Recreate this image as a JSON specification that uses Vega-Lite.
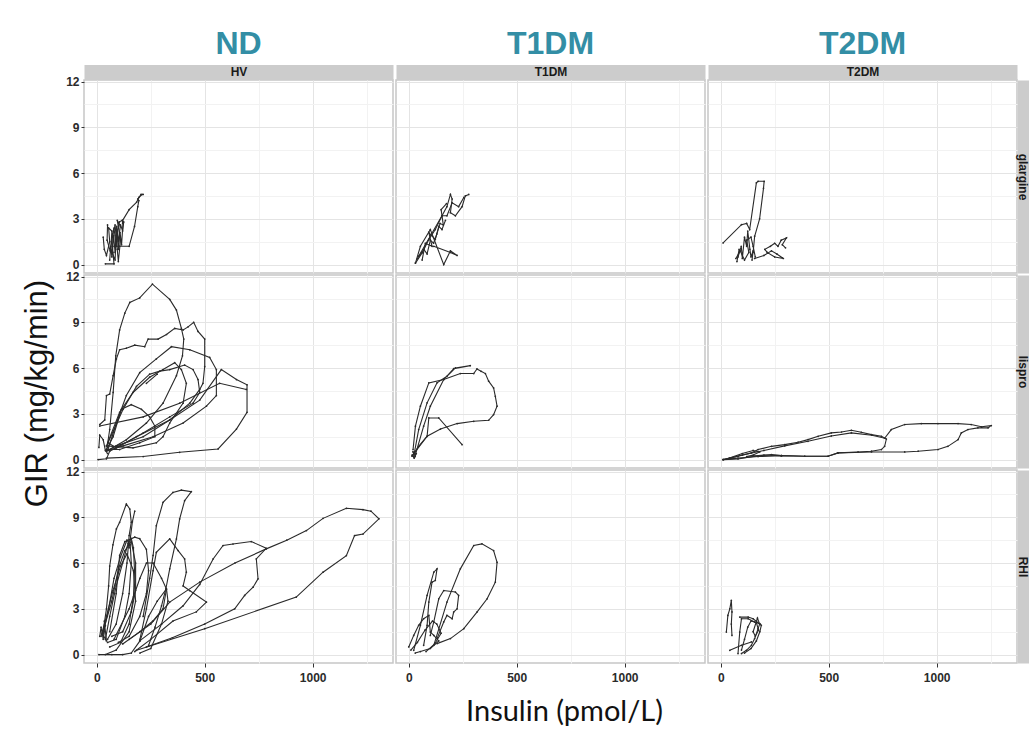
{
"$schema": "https://vega.github.io/schema/vega-lite/v6.json",
"padding": {"left": 20, "top": 27, "right": 0, "bottom": 0},
"autosize": {"type": "pad"},
"background": "white",
"columns": 3,
"spacing": {"row": 2, "column": 3},
"bounds": "flush",
"config": {
  "view": {"stroke": "#c6c6c6", "strokeWidth": 1.5},
  "axis": {"labelFont": "Liberation Sans", "labelFontWeight": "bold", "labelFontSize": 12, "labelColor": "#2b2b2b", "domain": false, "tickSize": 3, "tickColor": "#333333", "labelPadding": 2},
  "title": {"font": "Liberation Sans", "fontSize": 32, "fontWeight": "bold", "color": "#338ea5", "anchor": "middle", "frame": "group", "offset": 4}
},
"datasets": {
"hv_gl": [
{"s":"a1","x":40,"y":0.05},{"s":"a1","x":80,"y":0.05},{"s":"a1","x":75,"y":0.8},{"s":"a1","x":70,"y":1.8},{"s":"a1","x":80,"y":2.4},{"s":"a1","x":90,"y":1.2},{"s":"a1","x":95,"y":2.2},{"s":"a1","x":100,"y":1.5},{"s":"a1","x":110,"y":2.6},{"s":"a1","x":120,"y":2.2},{"s":"a1","x":125,"y":2.8},
{"s":"a2","x":30,"y":1.8},{"s":"a2","x":35,"y":1.0},{"s":"a2","x":45,"y":0.6},{"s":"a2","x":60,"y":1.5},{"s":"a2","x":55,"y":2.4},{"s":"a2","x":70,"y":2.2},{"s":"a2","x":65,"y":1.0},{"s":"a2","x":85,"y":0.3},{"s":"a2","x":90,"y":1.9},{"s":"a2","x":105,"y":2.8},{"s":"a2","x":118,"y":2.9},{"s":"a2","x":120,"y":2.7},
{"s":"a3","x":50,"y":2.6},{"s":"a3","x":48,"y":1.6},{"s":"a3","x":62,"y":0.9},{"s":"a3","x":75,"y":2.0},{"s":"a3","x":85,"y":2.6},{"s":"a3","x":95,"y":1.0},{"s":"a3","x":100,"y":0.2},{"s":"a3","x":110,"y":1.6},{"s":"a3","x":95,"y":2.9},{"s":"a3","x":110,"y":2.5},
{"s":"a4","x":80,"y":1.2},{"s":"a4","x":105,"y":1.2},{"s":"a4","x":150,"y":1.2},{"s":"a4","x":175,"y":2.5},{"s":"a4","x":190,"y":3.8},{"s":"a4","x":195,"y":4.2},{"s":"a4","x":190,"y":4.3},{"s":"a4","x":205,"y":4.6},{"s":"a4","x":215,"y":4.6},
{"s":"a5","x":120,"y":2.9},{"s":"a5","x":150,"y":3.6},{"s":"a5","x":185,"y":4.1},{"s":"a5","x":195,"y":4.4},{"s":"a5","x":210,"y":4.6},
{"s":"a6","x":60,"y":0.3},{"s":"a6","x":65,"y":1.2},{"s":"a6","x":70,"y":0.5},{"s":"a6","x":78,"y":1.9},{"s":"a6","x":85,"y":0.8},{"s":"a6","x":92,"y":2.5},{"s":"a6","x":100,"y":1.0},{"s":"a6","x":108,"y":2.1},{"s":"a6","x":115,"y":1.3},{"s":"a6","x":122,"y":2.8}
],
"hv_li": [
{"s":"b1","x":45,"y":0.55},{"s":"b1","x":60,"y":1.97},{"s":"b1","x":76,"y":4.4},{"s":"b1","x":88,"y":6.8},{"s":"b1","x":106,"y":8.5},{"s":"b1","x":130,"y":9.6},{"s":"b1","x":153,"y":10.3},{"s":"b1","x":199,"y":10.6},{"s":"b1","x":258,"y":11.5},{"s":"b1","x":338,"y":10.5},{"s":"b1","x":369,"y":9.8},{"s":"b1","x":392,"y":8.6},{"s":"b1","x":403,"y":7.9},{"s":"b1","x":397,"y":6.8},{"s":"b1","x":369,"y":5.5},{"s":"b1","x":307,"y":3.7},{"s":"b1","x":230,"y":2.4},{"s":"b1","x":137,"y":1.3},{"s":"b1","x":60,"y":0.66},
{"s":"b2","x":14,"y":2.3},{"s":"b2","x":37,"y":2.6},{"s":"b2","x":45,"y":4.2},{"s":"b2","x":60,"y":4.3},{"s":"b2","x":76,"y":5.5},{"s":"b2","x":91,"y":6.6},{"s":"b2","x":106,"y":7.2},{"s":"b2","x":137,"y":7.3},{"s":"b2","x":176,"y":7.5},{"s":"b2","x":222,"y":7.4},{"s":"b2","x":238,"y":7.9},{"s":"b2","x":284,"y":7.9},{"s":"b2","x":323,"y":8.2},{"s":"b2","x":361,"y":8.6},{"s":"b2","x":400,"y":8.5},{"s":"b2","x":423,"y":8.7},{"s":"b2","x":449,"y":9.0},{"s":"b2","x":469,"y":8.4},{"s":"b2","x":500,"y":7.9},{"s":"b2","x":500,"y":6.1},{"s":"b2","x":492,"y":5.0},{"s":"b2","x":477,"y":4.6},{"s":"b2","x":431,"y":3.7},{"s":"b2","x":338,"y":2.6},{"s":"b2","x":215,"y":1.5},{"s":"b2","x":91,"y":0.9},{"s":"b2","x":45,"y":0.55},
{"s":"b3","x":52,"y":0.66},{"s":"b3","x":91,"y":2.4},{"s":"b3","x":137,"y":4.2},{"s":"b3","x":199,"y":5.7},{"s":"b3","x":276,"y":6.6},{"s":"b3","x":346,"y":7.4},{"s":"b3","x":431,"y":7.2},{"s":"b3","x":523,"y":6.7},{"s":"b3","x":554,"y":5.9},{"s":"b3","x":554,"y":4.2},{"s":"b3","x":508,"y":3.5},{"s":"b3","x":400,"y":2.4},{"s":"b3","x":261,"y":1.5},{"s":"b3","x":122,"y":0.9},{"s":"b3","x":52,"y":0.6},
{"s":"b4","x":6,"y":0},{"s":"b4","x":45,"y":0.05},{"s":"b4","x":60,"y":0.55},{"s":"b4","x":184,"y":1.5},{"s":"b4","x":338,"y":2.6},{"s":"b4","x":477,"y":3.9},{"s":"b4","x":577,"y":5.9},{"s":"b4","x":647,"y":5.25},{"s":"b4","x":696,"y":4.9},{"s":"b4","x":696,"y":3.1},{"s":"b4","x":647,"y":2.0},{"s":"b4","x":562,"y":0.7},{"s":"b4","x":384,"y":0.48},{"s":"b4","x":215,"y":0.2},{"s":"b4","x":45,"y":0.1},
{"s":"b5","x":52,"y":1.1},{"s":"b5","x":122,"y":3.3},{"s":"b5","x":184,"y":4.8},{"s":"b5","x":245,"y":5.6},{"s":"b5","x":292,"y":5.8},{"s":"b5","x":338,"y":5.9},{"s":"b5","x":407,"y":6.2},{"s":"b5","x":446,"y":5.9},{"s":"b5","x":469,"y":5.25},{"s":"b5","x":477,"y":4.4},{"s":"b5","x":446,"y":3.7},{"s":"b5","x":338,"y":2.8},{"s":"b5","x":215,"y":1.75},{"s":"b5","x":91,"y":0.77},{"s":"b5","x":52,"y":1.1},
{"s":"b6","x":45,"y":0.9},{"s":"b6","x":106,"y":3.1},{"s":"b6","x":168,"y":4.4},{"s":"b6","x":245,"y":5.4},{"s":"b6","x":307,"y":5.9},{"s":"b6","x":361,"y":6.35},{"s":"b6","x":392,"y":5.9},{"s":"b6","x":415,"y":5.0},{"s":"b6","x":400,"y":3.7},{"s":"b6","x":338,"y":2.4},{"s":"b6","x":307,"y":1.5},{"s":"b6","x":276,"y":1.1},{"s":"b6","x":168,"y":0.77},{"s":"b6","x":45,"y":0.9},
{"s":"b7","x":45,"y":0.66},{"s":"b7","x":76,"y":1.5},{"s":"b7","x":114,"y":3.3},{"s":"b7","x":160,"y":3.6},{"s":"b7","x":207,"y":3.3},{"s":"b7","x":245,"y":2.8},{"s":"b7","x":269,"y":2.2},{"s":"b7","x":269,"y":1.5},{"s":"b7","x":199,"y":1.1},{"s":"b7","x":106,"y":0.66},{"s":"b7","x":45,"y":0.66},
{"s":"b8","x":14,"y":2.2},{"s":"b8","x":215,"y":2.8},{"s":"b8","x":384,"y":3.7},{"s":"b8","x":569,"y":5.0},{"s":"b8","x":693,"y":4.6},
{"s":"b9","x":230,"y":5.0},{"s":"b9","x":280,"y":5.6},
{"s":"b10","x":10,"y":0.8},{"s":"b10","x":14,"y":1.6},{"s":"b10","x":30,"y":1.3},{"s":"b10","x":40,"y":0.6},{"s":"b10","x":50,"y":0.4}
],
"hv_rh": [
{"s":"c1","x":184,"y":0.28},{"s":"c1","x":500,"y":1.7},{"s":"c1","x":924,"y":3.77},{"s":"c1","x":1048,"y":5.4},{"s":"c1","x":1156,"y":6.49},{"s":"c1","x":1194,"y":7.8},{"s":"c1","x":1233,"y":7.9},{"s":"c1","x":1307,"y":8.9},{"s":"c1","x":1270,"y":9.4},{"s":"c1","x":1233,"y":9.5},{"s":"c1","x":1156,"y":9.59},{"s":"c1","x":1048,"y":8.93},{"s":"c1","x":971,"y":8.13},{"s":"c1","x":880,"y":7.5},{"s":"c1","x":785,"y":6.93},{"s":"c1","x":640,"y":6.0},{"s":"c1","x":477,"y":4.75},{"s":"c1","x":338,"y":3.44},{"s":"c1","x":250,"y":2.0},{"s":"c1","x":150,"y":1.0},
{"s":"c2","x":199,"y":0.9},{"s":"c2","x":300,"y":2.0},{"s":"c2","x":400,"y":3.2},{"s":"c2","x":477,"y":4.6},{"s":"c2","x":539,"y":6.27},{"s":"c2","x":585,"y":7.15},{"s":"c2","x":631,"y":7.25},{"s":"c2","x":716,"y":7.41},{"s":"c2","x":785,"y":6.97},{"s":"c2","x":739,"y":6.27},{"s":"c2","x":747,"y":4.97},{"s":"c2","x":724,"y":4.42},{"s":"c2","x":685,"y":3.88},{"s":"c2","x":639,"y":3.0},{"s":"c2","x":500,"y":2.0},{"s":"c2","x":350,"y":1.1},{"s":"c2","x":230,"y":0.5},
{"s":"c3","x":215,"y":2.5},{"s":"c3","x":245,"y":5.0},{"s":"c3","x":261,"y":6.5},{"s":"c3","x":276,"y":8.45},{"s":"c3","x":307,"y":9.98},{"s":"c3","x":353,"y":10.63},{"s":"c3","x":392,"y":10.78},{"s":"c3","x":438,"y":10.68},{"s":"c3","x":407,"y":10.09},{"s":"c3","x":384,"y":8.89},{"s":"c3","x":369,"y":7.58},{"s":"c3","x":338,"y":5.62},{"s":"c3","x":320,"y":4.3},{"s":"c3","x":300,"y":3.2},{"s":"c3","x":270,"y":1.8},{"s":"c3","x":240,"y":0.6},
{"s":"c4","x":200,"y":1.0},{"s":"c4","x":230,"y":3.0},{"s":"c4","x":261,"y":5.5},{"s":"c4","x":276,"y":6.7},{"s":"c4","x":338,"y":7.58},{"s":"c4","x":377,"y":6.82},{"s":"c4","x":407,"y":6.27},{"s":"c4","x":415,"y":5.4},{"s":"c4","x":400,"y":4.5},{"s":"c4","x":430,"y":4.2},{"s":"c4","x":508,"y":3.44},{"s":"c4","x":461,"y":2.8},{"s":"c4","x":353,"y":2.2},{"s":"c4","x":250,"y":1.0},{"s":"c4","x":176,"y":0.2},
{"s":"c5","x":29,"y":1.5},{"s":"c5","x":45,"y":3.0},{"s":"c5","x":55,"y":4.5},{"s":"c5","x":60,"y":5.8},{"s":"c5","x":75,"y":7.2},{"s":"c5","x":91,"y":8.24},{"s":"c5","x":106,"y":8.67},{"s":"c5","x":137,"y":9.87},{"s":"c5","x":153,"y":9.54},{"s":"c5","x":160,"y":8.67},{"s":"c5","x":150,"y":7.8},{"s":"c5","x":140,"y":6.0},{"s":"c5","x":120,"y":4.0},{"s":"c5","x":90,"y":2.0},{"s":"c5","x":50,"y":1.0},
{"s":"c14","x":150,"y":7.0},{"s":"c14","x":165,"y":8.7},{"s":"c14","x":176,"y":9.4},
{"s":"c6","x":40,"y":1.0},{"s":"c6","x":60,"y":2.5},{"s":"c6","x":90,"y":4.5},{"s":"c6","x":120,"y":6.0},{"s":"c6","x":145,"y":7.3},{"s":"c6","x":160,"y":7.6},{"s":"c6","x":170,"y":7.0},{"s":"c6","x":175,"y":5.5},{"s":"c6","x":170,"y":3.8},{"s":"c6","x":150,"y":2.0},{"s":"c6","x":110,"y":0.8},{"s":"c6","x":60,"y":0.5},
{"s":"c7","x":30,"y":1.4},{"s":"c7","x":55,"y":3.0},{"s":"c7","x":80,"y":5.0},{"s":"c7","x":110,"y":6.4},{"s":"c7","x":140,"y":7.5},{"s":"c7","x":155,"y":7.2},{"s":"c7","x":160,"y":6.0},{"s":"c7","x":150,"y":4.0},{"s":"c7","x":130,"y":2.5},{"s":"c7","x":90,"y":1.0},{"s":"c7","x":50,"y":0.8},
{"s":"c8","x":35,"y":1.8},{"s":"c8","x":70,"y":3.5},{"s":"c8","x":100,"y":5.6},{"s":"c8","x":130,"y":6.8},{"s":"c8","x":160,"y":7.4},{"s":"c8","x":180,"y":6.0},{"s":"c8","x":180,"y":4.2},{"s":"c8","x":160,"y":2.8},{"s":"c8","x":120,"y":1.5},{"s":"c8","x":70,"y":1.2},
{"s":"c9","x":20,"y":1.2},{"s":"c9","x":45,"y":2.5},{"s":"c9","x":75,"y":4.2},{"s":"c9","x":110,"y":5.8},{"s":"c9","x":140,"y":6.6},{"s":"c9","x":170,"y":5.5},{"s":"c9","x":180,"y":3.5},{"s":"c9","x":150,"y":1.5},{"s":"c9","x":90,"y":0.3},{"s":"c9","x":40,"y":0.0},
{"s":"c10","x":10,"y":0.0},{"s":"c10","x":70,"y":0.0},{"s":"c10","x":120,"y":0.0},{"s":"c10","x":160,"y":0.1},{"s":"c10","x":200,"y":0.9},{"s":"c10","x":240,"y":2.5},{"s":"c10","x":280,"y":3.5},{"s":"c10","x":323,"y":4.3},{"s":"c10","x":330,"y":3.5},{"s":"c10","x":300,"y":2.0},{"s":"c10","x":250,"y":0.4},{"s":"c10","x":200,"y":0.1},
{"s":"c11","x":60,"y":1.5},{"s":"c11","x":90,"y":4.0},{"s":"c11","x":106,"y":6.5},{"s":"c11","x":130,"y":7.4},{"s":"c11","x":176,"y":7.7},{"s":"c11","x":199,"y":7.6},{"s":"c11","x":230,"y":6.9},{"s":"c11","x":240,"y":5.5},{"s":"c11","x":230,"y":4.0},{"s":"c11","x":199,"y":2.5},{"s":"c11","x":150,"y":1.2},{"s":"c11","x":100,"y":0.8},
{"s":"c12","x":80,"y":1.0},{"s":"c12","x":150,"y":3.0},{"s":"c12","x":200,"y":5.0},{"s":"c12","x":230,"y":6.0},{"s":"c12","x":261,"y":6.0},{"s":"c12","x":300,"y":5.0},{"s":"c12","x":323,"y":4.3},{"s":"c12","x":307,"y":3.0},{"s":"c12","x":260,"y":2.2},{"s":"c12","x":200,"y":1.5},{"s":"c12","x":120,"y":0.7},
{"s":"c13","x":14,"y":1.2},{"s":"c13","x":20,"y":1.8},{"s":"c13","x":30,"y":1.0},{"s":"c13","x":40,"y":1.9},{"s":"c13","x":25,"y":1.4},{"s":"c13","x":45,"y":0.9},{"s":"c13","x":35,"y":2.2}
],
"t1_gl": [
{"s":"d1","x":31,"y":0.1},{"s":"d1","x":54,"y":1.2},{"s":"d1","x":100,"y":2.3},{"s":"d1","x":162,"y":0},{"s":"d1","x":193,"y":0.9},{"s":"d1","x":224,"y":0.6},{"s":"d1","x":193,"y":0.8},{"s":"d1","x":116,"y":1.2},
{"s":"d2","x":31,"y":0.1},{"s":"d2","x":62,"y":0.77},{"s":"d2","x":93,"y":1.65},{"s":"d2","x":123,"y":2.3},{"s":"d2","x":154,"y":3.2},{"s":"d2","x":177,"y":3.8},{"s":"d2","x":193,"y":4.6},{"s":"d2","x":201,"y":4.3},{"s":"d2","x":193,"y":3.4},{"s":"d2","x":216,"y":3.2},{"s":"d2","x":247,"y":3.8},{"s":"d2","x":262,"y":4.5},{"s":"d2","x":278,"y":4.6},
{"s":"d3","x":46,"y":0.55},{"s":"d3","x":154,"y":3.2},{"s":"d3","x":177,"y":3.2},{"s":"d3","x":201,"y":4.05},{"s":"d3","x":231,"y":3.8},{"s":"d3","x":255,"y":4.4},
{"s":"d4","x":62,"y":0.3},{"s":"d4","x":77,"y":1.4},{"s":"d4","x":108,"y":1.2},{"s":"d4","x":93,"y":2.1},{"s":"d4","x":123,"y":1.65},{"s":"d4","x":139,"y":2.5},{"s":"d4","x":154,"y":2.3},{"s":"d4","x":170,"y":2.9},
{"s":"d5","x":40,"y":0.4},{"s":"d5","x":70,"y":1.0},{"s":"d5","x":85,"y":0.7},{"s":"d5","x":100,"y":1.6},{"s":"d5","x":115,"y":1.4},{"s":"d5","x":130,"y":2.0},{"s":"d5","x":145,"y":2.7},{"s":"d5","x":160,"y":2.6},{"s":"d5","x":150,"y":3.6},{"s":"d5","x":175,"y":4.0}
],
"t1_li": [
{"s":"e1","x":15,"y":0.22},{"s":"e1","x":46,"y":0.87},{"s":"e1","x":85,"y":1.53},{"s":"e1","x":147,"y":2.0},{"s":"e1","x":224,"y":2.36},{"s":"e1","x":301,"y":2.51},{"s":"e1","x":370,"y":2.58},{"s":"e1","x":393,"y":2.95},{"s":"e1","x":409,"y":3.5},{"s":"e1","x":401,"y":4.15},{"s":"e1","x":393,"y":4.7},{"s":"e1","x":370,"y":5.14},{"s":"e1","x":355,"y":5.64},{"s":"e1","x":335,"y":5.79},{"s":"e1","x":316,"y":5.94},{"s":"e1","x":301,"y":5.64},{"s":"e1","x":239,"y":5.64},{"s":"e1","x":162,"y":5.25},{"s":"e1","x":93,"y":5.03},{"s":"e1","x":54,"y":3.5},{"s":"e1","x":31,"y":2.19},{"s":"e1","x":20,"y":0.66},
{"s":"e2","x":23,"y":0.22},{"s":"e2","x":46,"y":1.97},{"s":"e2","x":85,"y":3.72},{"s":"e2","x":131,"y":5.03},{"s":"e2","x":177,"y":5.46},{"s":"e2","x":216,"y":6.01},{"s":"e2","x":285,"y":6.16},{"s":"e2","x":208,"y":5.96},{"s":"e2","x":162,"y":5.25},{"s":"e2","x":100,"y":3.5},{"s":"e2","x":69,"y":2.19},{"s":"e2","x":31,"y":0.33},
{"s":"e3","x":20,"y":0.33},{"s":"e3","x":85,"y":1.53},{"s":"e3","x":93,"y":2.73},{"s":"e3","x":139,"y":2.73},{"s":"e3","x":247,"y":0.98},
{"s":"e4","x":15,"y":0.3},{"s":"e4","x":25,"y":0.1},{"s":"e4","x":35,"y":0.4},{"s":"e4","x":20,"y":0.5},{"s":"e4","x":30,"y":0.2}
],
"t1_rh": [
{"s":"f1","x":116,"y":0.61},{"s":"f1","x":177,"y":3.44},{"s":"f1","x":239,"y":5.62},{"s":"f1","x":301,"y":7.15},{"s":"f1","x":339,"y":7.26},{"s":"f1","x":393,"y":6.82},{"s":"f1","x":409,"y":6.05},{"s":"f1","x":401,"y":4.75},{"s":"f1","x":363,"y":3.66},{"s":"f1","x":316,"y":2.79},{"s":"f1","x":255,"y":1.7},{"s":"f1","x":193,"y":1.05},{"s":"f1","x":131,"y":0.72},
{"s":"f2","x":131,"y":1.05},{"s":"f2","x":162,"y":2.14},{"s":"f2","x":177,"y":2.57},{"s":"f2","x":201,"y":2.35},{"s":"f2","x":208,"y":2.79},{"s":"f2","x":224,"y":3.0},{"s":"f2","x":231,"y":3.88},{"s":"f2","x":216,"y":4.1},{"s":"f2","x":162,"y":4.2},{"s":"f2","x":139,"y":3.66},{"s":"f2","x":116,"y":2.14},{"s":"f2","x":100,"y":1.26},
{"s":"f3","x":23,"y":0.28},{"s":"f3","x":54,"y":1.92},{"s":"f3","x":85,"y":3.88},{"s":"f3","x":116,"y":5.4},{"s":"f3","x":131,"y":5.62},{"s":"f3","x":123,"y":4.86},{"s":"f3","x":108,"y":4.75},{"s":"f3","x":93,"y":3.44},{"s":"f3","x":85,"y":1.92},{"s":"f3","x":69,"y":0.61},
{"s":"f4","x":0,"y":0.5},{"s":"f4","x":23,"y":1.26},{"s":"f4","x":46,"y":1.92},{"s":"f4","x":69,"y":2.35},{"s":"f4","x":93,"y":2.57},{"s":"f4","x":100,"y":1.48},{"s":"f4","x":116,"y":1.26},{"s":"f4","x":139,"y":0.9},{"s":"f4","x":100,"y":0.4},{"s":"f4","x":54,"y":0.2},{"s":"f4","x":30,"y":0.1},
{"s":"f5","x":10,"y":0.3},{"s":"f5","x":40,"y":0.8},{"s":"f5","x":75,"y":1.6},{"s":"f5","x":110,"y":2.2},{"s":"f5","x":130,"y":2.0},{"s":"f5","x":150,"y":1.4},{"s":"f5","x":120,"y":0.7},{"s":"f5","x":80,"y":0.2}
],
"t2_gl": [
{"s":"h1","x":11,"y":1.42},{"s":"h1","x":96,"y":2.62},{"s":"h1","x":120,"y":2.7},{"s":"h1","x":134,"y":2.3},{"s":"h1","x":165,"y":5.36},{"s":"h1","x":173,"y":5.46},{"s":"h1","x":201,"y":5.46},{"s":"h1","x":198,"y":5.0},{"s":"h1","x":180,"y":3.0},{"s":"h1","x":157,"y":1.86},{"s":"h1","x":150,"y":0.8},
{"s":"h2","x":75,"y":0.2},{"s":"h2","x":85,"y":1.0},{"s":"h2","x":80,"y":0.5},{"s":"h2","x":95,"y":1.2},{"s":"h2","x":100,"y":0.4},{"s":"h2","x":110,"y":1.8},{"s":"h2","x":120,"y":1.2},{"s":"h2","x":125,"y":2.2},{"s":"h2","x":135,"y":1.0},{"s":"h2","x":140,"y":0.5},{"s":"h2","x":150,"y":0.9},{"s":"h2","x":145,"y":0.3},
{"s":"h3","x":70,"y":0.4},{"s":"h3","x":90,"y":0.9},{"s":"h3","x":110,"y":0.3},{"s":"h3","x":130,"y":0.8},{"s":"h3","x":120,"y":1.6},{"s":"h3","x":140,"y":1.8},{"s":"h3","x":150,"y":1.2},{"s":"h3","x":160,"y":0.5},
{"s":"h4","x":157,"y":0.4},{"s":"h4","x":200,"y":0.6},{"s":"h4","x":235,"y":0.9},{"s":"h4","x":260,"y":0.7},{"s":"h4","x":290,"y":0.4},{"s":"h4","x":250,"y":0.5},{"s":"h4","x":215,"y":0.8},{"s":"h4","x":204,"y":1.0},{"s":"h4","x":230,"y":1.2},{"s":"h4","x":250,"y":1.4},{"s":"h4","x":265,"y":1.2},{"s":"h4","x":280,"y":1.6},{"s":"h4","x":304,"y":1.75},{"s":"h4","x":285,"y":1.3},{"s":"h4","x":300,"y":1.1}
],
"t2_li": [
{"s":"k1","x":11,"y":0},{"s":"k1","x":80,"y":0.22},{"s":"k1","x":142,"y":0.44},{"s":"k1","x":173,"y":0.66},{"s":"k1","x":235,"y":0.87},{"s":"k1","x":296,"y":0.98},{"s":"k1","x":358,"y":1.14},{"s":"k1","x":404,"y":1.31},{"s":"k1","x":451,"y":1.53},{"s":"k1","x":512,"y":1.75},{"s":"k1","x":559,"y":1.81},{"s":"k1","x":605,"y":1.92},{"s":"k1","x":651,"y":1.79},{"s":"k1","x":698,"y":1.64},{"s":"k1","x":744,"y":1.53},{"s":"k1","x":767,"y":1.35},{"s":"k1","x":759,"y":0.87},{"s":"k1","x":744,"y":0.66},{"s":"k1","x":698,"y":0.55},{"s":"k1","x":636,"y":0.5},{"s":"k1","x":543,"y":0.44},{"s":"k1","x":497,"y":0.22},{"s":"k1","x":389,"y":0.22},{"s":"k1","x":281,"y":0.26},{"s":"k1","x":235,"y":0.33},{"s":"k1","x":157,"y":0.22},{"s":"k1","x":80,"y":0.04},{"s":"k1","x":11,"y":0},
{"s":"k2","x":11,"y":0},{"s":"k2","x":100,"y":0.3},{"s":"k2","x":200,"y":0.6},{"s":"k2","x":296,"y":0.9},{"s":"k2","x":404,"y":1.2},{"s":"k2","x":512,"y":1.55},{"s":"k2","x":605,"y":1.75},{"s":"k2","x":700,"y":1.6},{"s":"k2","x":759,"y":1.4},{"s":"k2","x":790,"y":1.97},{"s":"k2","x":852,"y":2.3},{"s":"k2","x":929,"y":2.36},{"s":"k2","x":1006,"y":2.36},{"s":"k2","x":1099,"y":2.36},{"s":"k2","x":1160,"y":2.3},{"s":"k2","x":1207,"y":2.15},{"s":"k2","x":1253,"y":2.23},{"s":"k2","x":1238,"y":2.08},{"s":"k2","x":1191,"y":2.08},{"s":"k2","x":1145,"y":1.97},{"s":"k2","x":1114,"y":1.75},{"s":"k2","x":1099,"y":1.31},{"s":"k2","x":1052,"y":0.87},{"s":"k2","x":1006,"y":0.66},{"s":"k2","x":914,"y":0.55},{"s":"k2","x":852,"y":0.5},{"s":"k2","x":698,"y":0.5},{"s":"k2","x":543,"y":0.44},{"s":"k2","x":497,"y":0.22},{"s":"k2","x":389,"y":0.22},{"s":"k2","x":281,"y":0.26},{"s":"k2","x":173,"y":0.2},{"s":"k2","x":80,"y":0.1},{"s":"k2","x":11,"y":0},
{"s":"k3","x":40,"y":0.1},{"s":"k3","x":100,"y":0.4},{"s":"k3","x":150,"y":0.6},{"s":"k3","x":180,"y":0.5},{"s":"k3","x":150,"y":0.3},{"s":"k3","x":120,"y":0.2},{"s":"k3","x":200,"y":0.3},{"s":"k3","x":281,"y":0.26}
],
"t2_rh": [
{"s":"m1","x":26,"y":1.48},{"s":"m1","x":33,"y":2.57},{"s":"m1","x":42,"y":3.0},{"s":"m1","x":49,"y":3.55},{"s":"m1","x":52,"y":2.8},{"s":"m1","x":49,"y":2.0},{"s":"m1","x":52,"y":1.26},
{"s":"m2","x":42,"y":0.28},{"s":"m2","x":96,"y":0.61},{"s":"m2","x":142,"y":0.83},
{"s":"m3","x":80,"y":0.07},{"s":"m3","x":88,"y":1.48},{"s":"m3","x":96,"y":2.35},{"s":"m3","x":127,"y":2.35},{"s":"m3","x":157,"y":2.13},{"s":"m3","x":181,"y":2.03},{"s":"m3","x":173,"y":1.7},{"s":"m3","x":157,"y":1.05},{"s":"m3","x":142,"y":0.61},{"s":"m3","x":119,"y":0.28},{"s":"m3","x":96,"y":0.07},
{"s":"m4","x":88,"y":2.46},{"s":"m4","x":127,"y":2.46},{"s":"m4","x":150,"y":2.35},{"s":"m4","x":188,"y":1.92},{"s":"m4","x":181,"y":1.5},{"s":"m4","x":165,"y":0.9},{"s":"m4","x":140,"y":0.4},{"s":"m4","x":110,"y":0.1},
{"s":"m5","x":96,"y":0.3},{"s":"m5","x":110,"y":1.0},{"s":"m5","x":125,"y":1.8},{"s":"m5","x":140,"y":2.2},{"s":"m5","x":165,"y":2.1},{"s":"m5","x":175,"y":1.6},{"s":"m5","x":160,"y":1.2},{"s":"m5","x":150,"y":1.5},{"s":"m5","x":170,"y":2.4},{"s":"m5","x":180,"y":2.0}
]
},
"concat": [
 {"title": "ND", "width": 309, "height": 193, "data": {"name": "hv_gl"},
  "resolve": {"axis": {"x": "independent"}},
  "encoding": {
   "x": {"field": "x", "type": "quantitative", "scale": {"domain": [-59, 1372], "nice": false, "zero": false}, "axis": {"title": null, "values": [0,250,500,750,1000,1250], "labels": false, "ticks": false, "gridColor": {"condition": {"test": "datum.value % 500 === 0", "value": "#e4e4e4"}, "value": "#f2f2f2"}}},
   "y": {"field": "y", "type": "quantitative", "scale": {"domain": [-0.55, 12.1], "nice": false, "zero": false}, "axis": {"title": null, "values": [0,1.5,3,4.5,6,7.5,9,10.5,12], "format": "d", "labelExpr": "datum.value % 3 === 0 ? datum.label : ''", "tickOpacity": {"condition": {"test": "datum.value % 3 === 0", "value": 1}, "value": 0}, "gridColor": {"condition": {"test": "datum.value % 3 === 0", "value": "#e4e4e4"}, "value": "#f2f2f2"}}}},
  "layer": [
   {"mark": {"type": "line", "color": "#2a2a2a", "strokeWidth": 1.1}, "encoding": {"detail": {"field": "s"}, "order": {"value": null}}},
   {"mark": {"type": "point", "filled": true, "size": 3, "color": "#2a2a2a", "opacity": 1},
    "encoding": {"x": {"field": "x", "type": "quantitative", "scale": {"domain": [-59, 1372], "nice": false, "zero": false}, "axis": {"orient": "top", "domain": true, "domainColor": "#cccccc", "domainWidth": 15, "offset": 8, "labels": false, "ticks": false, "grid": false, "title": "HV", "titlePadding": -6, "titleFont": "Liberation Sans", "titleFontSize": 12, "titleFontWeight": "bold", "titleColor": "#1a1a1a"}}}}
  ]},
 {"title": "T1DM", "width": 309, "height": 193, "data": {"name": "t1_gl"},
  "resolve": {"axis": {"x": "independent"}},
  "encoding": {
   "x": {"field": "x", "type": "quantitative", "scale": {"domain": [-59, 1372], "nice": false, "zero": false}, "axis": {"title": null, "values": [0,250,500,750,1000,1250], "labels": false, "ticks": false, "gridColor": {"condition": {"test": "datum.value % 500 === 0", "value": "#e4e4e4"}, "value": "#f2f2f2"}}},
   "y": {"field": "y", "type": "quantitative", "scale": {"domain": [-0.55, 12.1], "nice": false, "zero": false}, "axis": {"title": null, "values": [0,1.5,3,4.5,6,7.5,9,10.5,12], "labels": false, "ticks": false, "gridColor": {"condition": {"test": "datum.value % 3 === 0", "value": "#e4e4e4"}, "value": "#f2f2f2"}}}},
  "layer": [
   {"mark": {"type": "line", "color": "#2a2a2a", "strokeWidth": 1.1}, "encoding": {"detail": {"field": "s"}, "order": {"value": null}}},
   {"mark": {"type": "point", "filled": true, "size": 3, "color": "#2a2a2a", "opacity": 1},
    "encoding": {"x": {"field": "x", "type": "quantitative", "scale": {"domain": [-59, 1372], "nice": false, "zero": false}, "axis": {"orient": "top", "domain": true, "domainColor": "#cccccc", "domainWidth": 15, "offset": 8, "labels": false, "ticks": false, "grid": false, "title": "T1DM", "titlePadding": -6, "titleFont": "Liberation Sans", "titleFontSize": 12, "titleFontWeight": "bold", "titleColor": "#1a1a1a"}}}}
  ]},
 {"title": "T2DM", "width": 309, "height": 193, "data": {"name": "t2_gl"},
  "resolve": {"axis": {"x": "independent", "y": "independent"}},
  "encoding": {
   "x": {"field": "x", "type": "quantitative", "scale": {"domain": [-59, 1372], "nice": false, "zero": false}, "axis": {"title": null, "values": [0,250,500,750,1000,1250], "labels": false, "ticks": false, "gridColor": {"condition": {"test": "datum.value % 500 === 0", "value": "#e4e4e4"}, "value": "#f2f2f2"}}},
   "y": {"field": "y", "type": "quantitative", "scale": {"domain": [-0.55, 12.1], "nice": false, "zero": false}, "axis": {"title": null, "values": [0,1.5,3,4.5,6,7.5,9,10.5,12], "labels": false, "ticks": false, "gridColor": {"condition": {"test": "datum.value % 3 === 0", "value": "#e4e4e4"}, "value": "#f2f2f2"}}}},
  "layer": [
   {"mark": {"type": "line", "color": "#2a2a2a", "strokeWidth": 1.1}, "encoding": {"detail": {"field": "s"}, "order": {"value": null}}},
   {"mark": {"type": "point", "filled": true, "size": 3, "color": "#2a2a2a", "opacity": 1},
    "encoding": {"x": {"field": "x", "type": "quantitative", "scale": {"domain": [-59, 1372], "nice": false, "zero": false}, "axis": {"orient": "top", "domain": true, "domainColor": "#cccccc", "domainWidth": 15, "offset": 8, "labels": false, "ticks": false, "grid": false, "title": "T2DM", "titlePadding": -6, "titleFont": "Liberation Sans", "titleFontSize": 12, "titleFontWeight": "bold", "titleColor": "#1a1a1a"}},
     "y": {"field": "y", "type": "quantitative", "scale": {"domain": [-0.55, 12.1], "nice": false, "zero": false}, "axis": {"orient": "right", "domain": true, "domainColor": "#cccccc", "domainWidth": 15, "offset": 8, "labels": false, "ticks": false, "grid": false, "title": "glargine", "titleAngle": 90, "titlePadding": -10, "titleFont": "Liberation Sans", "titleFontSize": 12, "titleFontWeight": "bold", "titleColor": "#1a1a1a"}}}}
  ]},
 {"width": 309, "height": 193, "data": {"name": "hv_li"},
  "encoding": {
   "x": {"field": "x", "type": "quantitative", "scale": {"domain": [-59, 1372], "nice": false, "zero": false}, "axis": {"title": null, "values": [0,250,500,750,1000,1250], "labels": false, "ticks": false, "gridColor": {"condition": {"test": "datum.value % 500 === 0", "value": "#e4e4e4"}, "value": "#f2f2f2"}}},
   "y": {"field": "y", "type": "quantitative", "scale": {"domain": [-0.55, 12.1], "nice": false, "zero": false}, "axis": {"title": "GIR (mg/kg/min)", "titleFont": "Liberation Sans", "titleFontSize": 31, "titleFontWeight": "normal", "titleColor": "#111111", "titlePadding": 12, "titleY": 118, "values": [0,1.5,3,4.5,6,7.5,9,10.5,12], "format": "d", "labelExpr": "datum.value % 3 === 0 ? datum.label : ''", "tickOpacity": {"condition": {"test": "datum.value % 3 === 0", "value": 1}, "value": 0}, "gridColor": {"condition": {"test": "datum.value % 3 === 0", "value": "#e4e4e4"}, "value": "#f2f2f2"}}}},
  "layer": [
   {"mark": {"type": "line", "color": "#2a2a2a", "strokeWidth": 1.1}, "encoding": {"detail": {"field": "s"}, "order": {"value": null}}},
   {"mark": {"type": "point", "filled": true, "size": 3, "color": "#2a2a2a", "opacity": 1}}
  ]},
 {"width": 309, "height": 193, "data": {"name": "t1_li"},
  "encoding": {
   "x": {"field": "x", "type": "quantitative", "scale": {"domain": [-59, 1372], "nice": false, "zero": false}, "axis": {"title": null, "values": [0,250,500,750,1000,1250], "labels": false, "ticks": false, "gridColor": {"condition": {"test": "datum.value % 500 === 0", "value": "#e4e4e4"}, "value": "#f2f2f2"}}},
   "y": {"field": "y", "type": "quantitative", "scale": {"domain": [-0.55, 12.1], "nice": false, "zero": false}, "axis": {"title": null, "values": [0,1.5,3,4.5,6,7.5,9,10.5,12], "labels": false, "ticks": false, "gridColor": {"condition": {"test": "datum.value % 3 === 0", "value": "#e4e4e4"}, "value": "#f2f2f2"}}}},
  "layer": [
   {"mark": {"type": "line", "color": "#2a2a2a", "strokeWidth": 1.1}, "encoding": {"detail": {"field": "s"}, "order": {"value": null}}},
   {"mark": {"type": "point", "filled": true, "size": 3, "color": "#2a2a2a", "opacity": 1}}
  ]},
 {"width": 309, "height": 193, "data": {"name": "t2_li"},
  "resolve": {"axis": {"y": "independent"}},
  "encoding": {
   "x": {"field": "x", "type": "quantitative", "scale": {"domain": [-59, 1372], "nice": false, "zero": false}, "axis": {"title": null, "values": [0,250,500,750,1000,1250], "labels": false, "ticks": false, "gridColor": {"condition": {"test": "datum.value % 500 === 0", "value": "#e4e4e4"}, "value": "#f2f2f2"}}},
   "y": {"field": "y", "type": "quantitative", "scale": {"domain": [-0.55, 12.1], "nice": false, "zero": false}, "axis": {"title": null, "values": [0,1.5,3,4.5,6,7.5,9,10.5,12], "labels": false, "ticks": false, "gridColor": {"condition": {"test": "datum.value % 3 === 0", "value": "#e4e4e4"}, "value": "#f2f2f2"}}}},
  "layer": [
   {"mark": {"type": "line", "color": "#2a2a2a", "strokeWidth": 1.1}, "encoding": {"detail": {"field": "s"}, "order": {"value": null}}},
   {"mark": {"type": "point", "filled": true, "size": 3, "color": "#2a2a2a", "opacity": 1},
    "encoding": {"y": {"field": "y", "type": "quantitative", "scale": {"domain": [-0.55, 12.1], "nice": false, "zero": false}, "axis": {"orient": "right", "domain": true, "domainColor": "#cccccc", "domainWidth": 15, "offset": 8, "labels": false, "ticks": false, "grid": false, "title": "lispro", "titleAngle": 90, "titlePadding": -10, "titleFont": "Liberation Sans", "titleFontSize": 12, "titleFontWeight": "bold", "titleColor": "#1a1a1a"}}}}
  ]},
 {"width": 309, "height": 193, "data": {"name": "hv_rh"},
  "encoding": {
   "x": {"field": "x", "type": "quantitative", "scale": {"domain": [-59, 1372], "nice": false, "zero": false}, "axis": {"title": null, "values": [0,250,500,750,1000,1250], "format": "d", "tickSize": 4, "labelPadding": 5, "labelExpr": "datum.value % 500 === 0 ? datum.label : ''", "tickOpacity": {"condition": {"test": "datum.value % 500 === 0", "value": 1}, "value": 0}, "gridColor": {"condition": {"test": "datum.value % 500 === 0", "value": "#e4e4e4"}, "value": "#f2f2f2"}}},
   "y": {"field": "y", "type": "quantitative", "scale": {"domain": [-0.55, 12.1], "nice": false, "zero": false}, "axis": {"title": null, "values": [0,1.5,3,4.5,6,7.5,9,10.5,12], "format": "d", "labelExpr": "datum.value % 3 === 0 ? datum.label : ''", "tickOpacity": {"condition": {"test": "datum.value % 3 === 0", "value": 1}, "value": 0}, "gridColor": {"condition": {"test": "datum.value % 3 === 0", "value": "#e4e4e4"}, "value": "#f2f2f2"}}}},
  "layer": [
   {"mark": {"type": "line", "color": "#2a2a2a", "strokeWidth": 1.1}, "encoding": {"detail": {"field": "s"}, "order": {"value": null}}},
   {"mark": {"type": "point", "filled": true, "size": 3, "color": "#2a2a2a", "opacity": 1}}
  ]},
 {"width": 309, "height": 193, "data": {"name": "t1_rh"},
  "encoding": {
   "x": {"field": "x", "type": "quantitative", "scale": {"domain": [-59, 1372], "nice": false, "zero": false}, "axis": {"title": "Insulin (pmol/L)", "titleFont": "Lato", "titleFontSize": 29, "titleFontWeight": "normal", "titleColor": "#111111", "titlePadding": 14, "titleX": 168, "values": [0,250,500,750,1000,1250], "format": "d", "tickSize": 4, "labelPadding": 5, "labelExpr": "datum.value % 500 === 0 ? datum.label : ''", "tickOpacity": {"condition": {"test": "datum.value % 500 === 0", "value": 1}, "value": 0}, "gridColor": {"condition": {"test": "datum.value % 500 === 0", "value": "#e4e4e4"}, "value": "#f2f2f2"}}},
   "y": {"field": "y", "type": "quantitative", "scale": {"domain": [-0.55, 12.1], "nice": false, "zero": false}, "axis": {"title": null, "values": [0,1.5,3,4.5,6,7.5,9,10.5,12], "labels": false, "ticks": false, "gridColor": {"condition": {"test": "datum.value % 3 === 0", "value": "#e4e4e4"}, "value": "#f2f2f2"}}}},
  "layer": [
   {"mark": {"type": "line", "color": "#2a2a2a", "strokeWidth": 1.1}, "encoding": {"detail": {"field": "s"}, "order": {"value": null}}},
   {"mark": {"type": "point", "filled": true, "size": 3, "color": "#2a2a2a", "opacity": 1}}
  ]},
 {"width": 309, "height": 193, "data": {"name": "t2_rh"},
  "resolve": {"axis": {"y": "independent"}},
  "encoding": {
   "x": {"field": "x", "type": "quantitative", "scale": {"domain": [-59, 1372], "nice": false, "zero": false}, "axis": {"title": null, "values": [0,250,500,750,1000,1250], "format": "d", "tickSize": 4, "labelPadding": 5, "labelExpr": "datum.value % 500 === 0 ? datum.label : ''", "tickOpacity": {"condition": {"test": "datum.value % 500 === 0", "value": 1}, "value": 0}, "gridColor": {"condition": {"test": "datum.value % 500 === 0", "value": "#e4e4e4"}, "value": "#f2f2f2"}}},
   "y": {"field": "y", "type": "quantitative", "scale": {"domain": [-0.55, 12.1], "nice": false, "zero": false}, "axis": {"title": null, "values": [0,1.5,3,4.5,6,7.5,9,10.5,12], "labels": false, "ticks": false, "gridColor": {"condition": {"test": "datum.value % 3 === 0", "value": "#e4e4e4"}, "value": "#f2f2f2"}}}},
  "layer": [
   {"mark": {"type": "line", "color": "#2a2a2a", "strokeWidth": 1.1}, "encoding": {"detail": {"field": "s"}, "order": {"value": null}}},
   {"mark": {"type": "point", "filled": true, "size": 3, "color": "#2a2a2a", "opacity": 1},
    "encoding": {"y": {"field": "y", "type": "quantitative", "scale": {"domain": [-0.55, 12.1], "nice": false, "zero": false}, "axis": {"orient": "right", "domain": true, "domainColor": "#cccccc", "domainWidth": 15, "offset": 8, "labels": false, "ticks": false, "grid": false, "title": "RHI", "titleAngle": 90, "titlePadding": -10, "titleFont": "Liberation Sans", "titleFontSize": 12, "titleFontWeight": "bold", "titleColor": "#1a1a1a"}}}}
  ]}
]
}
